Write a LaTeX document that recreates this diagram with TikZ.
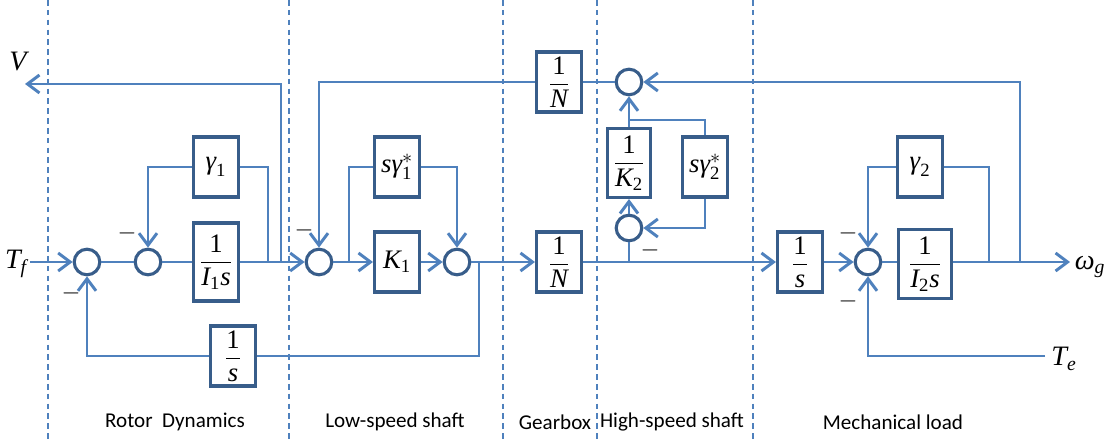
\documentclass[tikz,border=0pt]{standalone}
\usepackage{amsmath}
\usepackage{fontspec}
\setsansfont{Carlito}
\newfontfamily\mfont{Liberation Serif}
\usetikzlibrary{arrows.meta}
\definecolor{cline}{HTML}{4F81BD}
\definecolor{cbox}{HTML}{385D8A}
\newcommand{\vi}[1]{\text{\mfont\itshape #1}}
\newcommand{\vr}[1]{\text{\mfont #1}}
\tikzset{
  every picture/.style={line width=2.1pt},
  blk/.style={draw=cbox, fill=white, line width=2.2pt, minimum width=1.125cm, minimum height=1.5cm, inner sep=1pt, font=\fontsize{19}{22}\selectfont},
  sumnode/.style={circle, draw=cbox, fill=white, line width=2.2pt, minimum size=0.64cm, inner sep=0pt},
  arr/.style={-{Straight Barb[length=3mm, width=4.5mm]}, draw=cline},
  wire/.style={draw=cline},
  divider/.style={draw=cline, line width=0.9pt, dash pattern=on 4pt off 3pt},
  zone/.style={font=\sffamily\fontsize{15}{18}\selectfont},
  sig/.style={font=\fontsize{20}{22}\selectfont, inner sep=1pt},
  minus/.style={font=\fontsize{18}{20}\selectfont, inner sep=0pt},
}
\begin{document}
\begin{tikzpicture}[x=0.025cm, y=-0.025cm]
  \useasboundingbox (0,0) rectangle (1108,439);
  % section borders
  \foreach \x in {48,289,503,597,753}
    \draw[divider] (\x,0) -- (\x,439);
  \node[zone] (zrotor) at (175,422) {Rotor\ \ Dynamics};
  \node[zone] (zlow) at (395,422) {Low-speed shaft};
  \node[zone] (zgear) at (555,422) {Gearbox};
  \node[zone] (zhigh) at (672,422) {High-speed shaft};
  \node[zone] (zload) at (893,422) {Mechanical load};

  % rotor dynamics
  \node[sig] (lblV) at (18,62) {$\vi{V}$};
  \node[sig] (lblTf) at (16,264) {$\vi{T}_{\vi{f}}$};
  \coordinate (vout) at (25,84);
  \node[sumnode] (s1) at (87,262) {};
  \node[sumnode] (s2) at (148,262) {};
  \node[blk, minimum height=1.95cm] (bI1) at (216,262) {$\dfrac{\vr{1}}{\vi{I}_{\vr{1}}\vi{s}}$};
  \node[blk] (bg1) at (216,167) {$\vi{γ}_{\vr{1}}$};
  \node[blk] (bint1) at (233,356) {$\dfrac{\vr{1}}{\vi{s}}$};
  \coordinate (j1) at (268,262);
  \coordinate (j2) at (281,262);

  % low-speed shaft
  \node[sumnode] (s3) at (319,262) {};
  \coordinate (j4) at (349,262);
  \node[blk] (bsg1) at (397,167) {$\vi{s}\vi{γ}_{\vr{1}}^{*}$};
  \node[blk] (bK1) at (397,262) {$\vi{K}_{\vr{1}}$};
  \node[sumnode] (s4) at (457,262) {};
  \coordinate (j3) at (479,262);

  % gearbox
  \node[blk] (bN1) at (559,262) {$\dfrac{\vr{1}}{\vi{N}}$};
  \node[blk] (bN2) at (559,82) {$\dfrac{\vr{1}}{\vi{N}}$};

  % high-speed shaft
  \node[sumnode] (s5) at (629,82) {};
  \node[blk, minimum width=1.075cm, minimum height=1.725cm] (bK2) at (629,163) {$\dfrac{\vr{1}}{\vi{K}_{\vr{2}}}$};
  \node[blk] (bsg2) at (705,167) {$\vi{s}\vi{γ}_{\vr{2}}^{*}$};
  \node[sumnode] (s6) at (629,228) {};
  \coordinate (j5) at (629,262);
  \coordinate (j6) at (629,120);

  % mechanical load
  \node[blk] (bint2) at (800,262) {$\dfrac{\vr{1}}{\vi{s}}$};
  \node[sumnode] (s7) at (868,262) {};
  \node[blk, minimum width=1.325cm, minimum height=1.725cm] (bI2) at (925,264) {$\dfrac{\vr{1}}{\vi{I}_{\vr{2}}\vi{s}}$};
  \node[blk] (bg2) at (920,167) {$\vi{γ}_{\vr{2}}$};
  \coordinate (j8) at (989,262);
  \coordinate (j7) at (1020,262);
  \coordinate (wout) at (1070,262);
  \node[sig] (lblw) at (1090,267) {$\vi{ω}_{\vi{g}}$};
  \coordinate (tein) at (1045,356);
  \node[sig] (lblTe) at (1064,359) {$\vi{T}_{\vi{e}}$};

  % minus signs
  \node[minus] (m1) at (127,233) {$-$};
  \node[minus] (m2) at (71,293) {$-$};
  \node[minus] (m3) at (304,230) {$-$};
  \node[minus] (m4) at (650,250) {$-$};
  \node[minus] (m5) at (848,233) {$-$};
  \node[minus] (m6) at (848,301) {$-$};

  % signal lines
  \draw[arr] (lblTf.east |- s1) -- (s1);
  \draw[wire] (s1) -- (s2);
  \draw[wire] (s2) -- (bI1);
  \draw[arr] (bI1) -- (s3);
  \draw[wire] (j1) |- (bg1.east);
  \draw[arr] (bg1.west) -| (s2.north);
  \draw[arr] (j2) |- (vout);
  \draw[wire] (j3) |- (bint1.east);
  \draw[arr] (bint1.west) -| (s1.south);
  \draw[arr] (s3) -- (bK1);
  \draw[wire] (j4) |- (bsg1.west);
  \draw[arr] (bsg1.east) -| (s4.north);
  \draw[arr] (bK1) -- (s4);
  \draw[arr] (s4) -- (bN1);
  \draw[arr] (bN1) -- (bint2);
  \draw[wire] (j5) -- (s6.south);
  \draw[arr] (s6) -- (bK2);
  \draw[arr] (bK2) -- (s5);
  \draw[wire] (j6) -| (bsg2.north);
  \draw[arr] (bsg2.south) |- (s6.east);
  \draw[wire] (s5) -- (bN2);
  \draw[arr] (bN2.west) -| (s3.north);
  \draw[arr] (j7) |- (s5.east);
  \draw[arr] (bint2) -- (s7);
  \draw[wire] (s7) -- (bI2.west |- s7);
  \draw[arr] (bI2.east |- wout) -- (wout);
  \draw[wire] (j8) |- (bg2.east);
  \draw[arr] (bg2.west) -| (s7.north);
  \draw[arr] (tein) -| (s7.south);
\end{tikzpicture}
\end{document}
